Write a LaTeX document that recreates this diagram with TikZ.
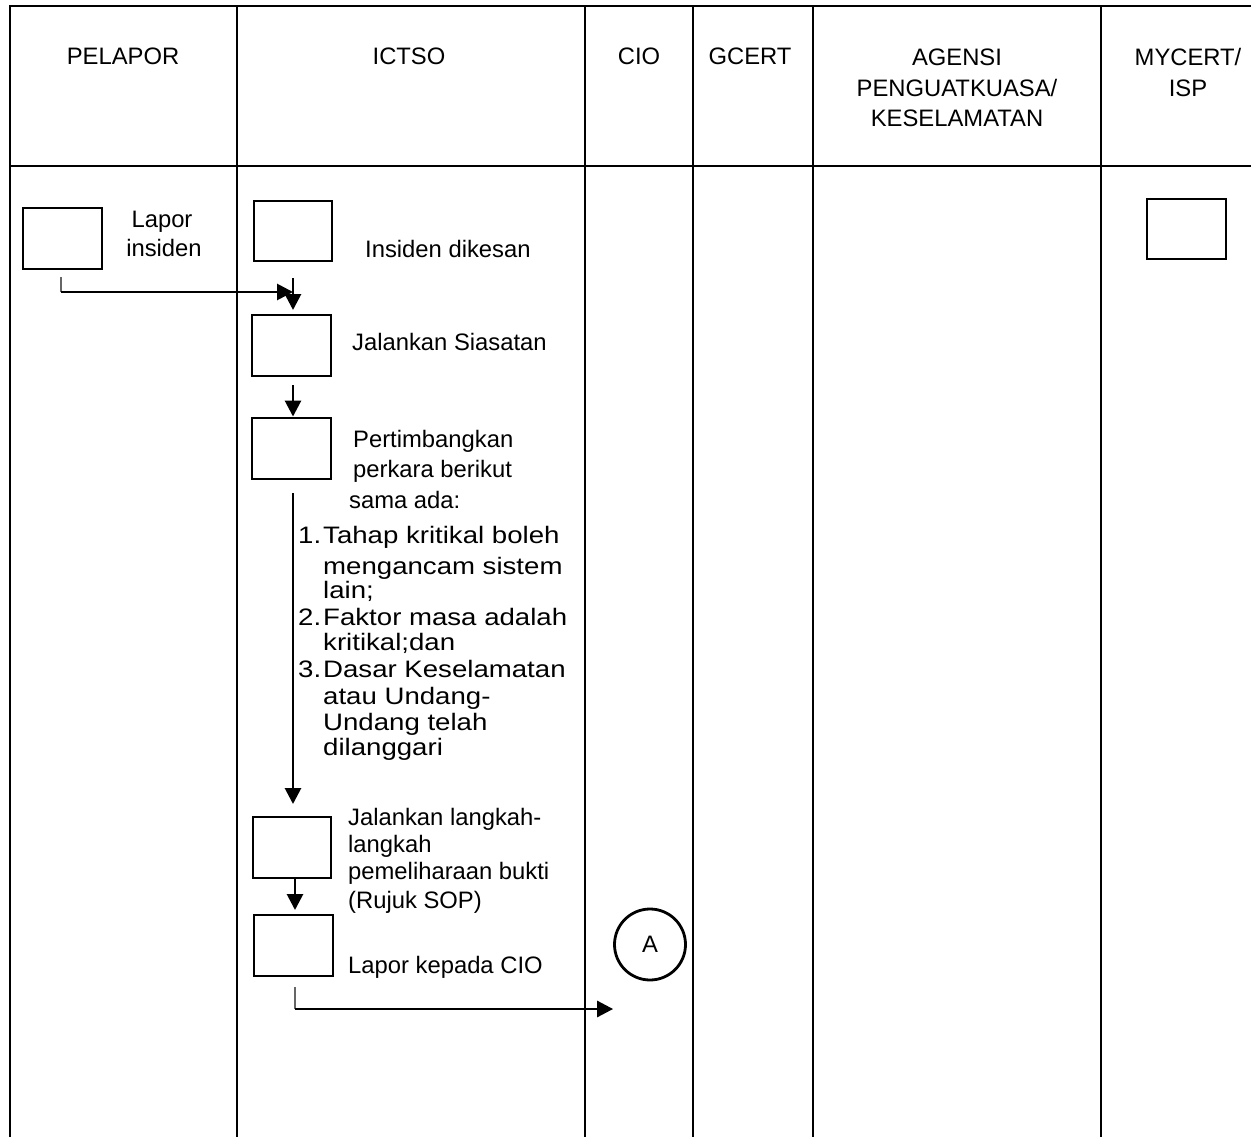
\documentclass[tikz,border=0pt]{standalone}
\usepackage{fontspec}
\setmainfont{Liberation Sans}
\newfontfamily\widefont[FakeStretch=1.16]{Liberation Sans}
\usetikzlibrary{arrows.meta,calc}
\tikzset{
  frame/.style={line width=2.7pt},
  stepbox/.style={draw, line width=2.9pt, minimum width=79pt, minimum height=61pt, inner sep=0pt},
  arr/.style={line width=2.8pt, -{Triangle[length=16pt,width=16pt]}},
  tickline/.style={line width=1.2pt, black!60},
  lbl/.style={font=\fontsize{23.8}{28}\selectfont, inner sep=0pt},
  lst/.style={font=\widefont\fontsize{23.8}{28}\selectfont, inner sep=0pt, anchor=base west},
}
\begin{document}
\begin{tikzpicture}[x=1pt,y=-1pt]
\useasboundingbox[fill=white] (0,0) rectangle (1251,1137);
% frame
\draw[frame] (10,1137) -- (10,6) -- (1251,6);
\draw[frame] (10,166) -- (1251,166);
\foreach \xx in {237,585,693,813,1101}{
  \draw[frame] (\xx,6) -- (\xx,1137);
}
% headers
\node[lbl, anchor=base] (hpel) at (123,65) {PELAPOR};
\node[lbl, anchor=base] (hict) at (409,65) {ICTSO};
\node[lbl, anchor=base] (hcio) at (639,65) {CIO};
\node[lbl, anchor=base] (hgce) at (750,65) {GCERT};
\node[lbl, anchor=base] (hag1) at (957,66) {AGENSI};
\node[lbl, anchor=base] (hag2) at (957,97) {PENGUATKUASA/};
\node[lbl, anchor=base] (hag3) at (957,127) {KESELAMATAN};
\node[lbl, anchor=base] (hmy1) at (1188,66) {MYCERT/};
\node[lbl, anchor=base] (hmy2) at (1188,97) {ISP};
% boxes
\node[stepbox] (p1) at (62.5,238.5) {};
\node[stepbox, minimum width=78pt, minimum height=60pt] (i1) at (293,231) {};
\node[stepbox] (i2) at (291.5,345.5) {};
\node[stepbox] (i3) at (291.5,448.5) {};
\node[stepbox, minimum width=78pt] (i4) at (292,847.5) {};
\node[stepbox] (i5) at (293.5,945.5) {};
\node[stepbox, minimum height=60pt] (m1) at (1186.5,229) {};
\node[draw, circle, line width=2.8pt, minimum size=71pt, inner sep=0pt, font=\fontsize{23.8}{28}\selectfont] (A) at (650,944.5) {A};
% body labels
\node[lbl, anchor=base] (tl1) at (162,227) {Lapor};
\node[lbl, anchor=base] (tl2) at (164,256) {insiden};
\node[lbl, anchor=base west] (t1) at (365,257) {Insiden dikesan};
\node[lbl, anchor=base west] (t2) at (352,350) {Jalankan Siasatan};
\node[lbl, anchor=base west] (t3a) at (353,447) {Pertimbangkan};
\node[lbl, anchor=base west] (t3b) at (353,477) {perkara berikut};
\node[lbl, anchor=base west] (t3c) at (349,508) {sama ada:};
\node[lst] (n1) at (298,543) {1.};
\node[lst] (n2) at (298,625) {2.};
\node[lst] (n3) at (298,677) {3.};
\node[lst] (l1) at (323,543) {Tahap kritikal boleh};
\node[lst] (l2) at (323,574) {mengancam sistem};
\node[lst] (l3) at (323,598) {lain;};
\node[lst] (l4) at (323,625) {Faktor masa adalah};
\node[lst] (l5) at (323,650) {kritikal;dan};
\node[lst] (l6) at (323,677) {Dasar Keselamatan};
\node[lst] (l7) at (323,704) {atau Undang-};
\node[lst] (l8) at (323,730) {Undang telah};
\node[lst] (l9) at (323,755) {dilanggari};
\node[lbl, anchor=base west] (t4a) at (348,825) {Jalankan langkah-};
\node[lbl, anchor=base west] (t4b) at (348,852) {langkah};
\node[lbl, anchor=base west] (t4c) at (348,879) {pemeliharaan bukti};
\node[lbl, anchor=base west] (t4d) at (348,908) {(Rujuk SOP)};
\node[lbl, anchor=base west] (t5) at (348,973) {Lapor kepada CIO};
% connectors
\coordinate (a1) at (61,277);
\coordinate (a2) at (61,292);
\draw[tickline] (a1) -- (a2);
\draw[arr] (a2) -- (i1.south |- a2);
\coordinate (d1) at (293,278);
\coordinate (e1) at (293,310);
\draw[arr] (d1) -- (e1);
\coordinate (d2) at (293,385);
\draw[arr] (d2) -- (d2 |- i3.north);
\coordinate (d3) at (293,493);
\coordinate (e3) at (293,804);
\draw[arr] (d3) -- (e3);
\coordinate (d4) at (295,878);
\coordinate (e4) at (295,910);
\draw[arr] (d4) -- (e4);
\coordinate (b1) at (295,987);
\coordinate (b2) at (295,1009);
\draw[tickline] (b1) -- (b2);
\draw[arr] (b2) -- (A.west |- b2);
\end{tikzpicture}
\end{document}
